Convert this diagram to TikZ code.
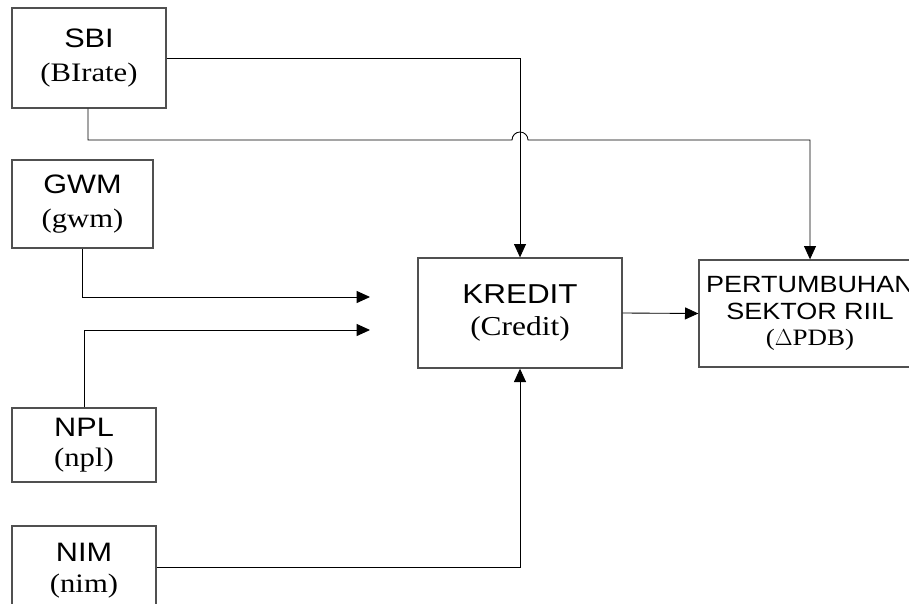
\documentclass[tikz,border=0pt]{standalone}
\usepackage{fontspec}
\setmainfont[FakeStretch=1.15]{Liberation Serif}
\newfontfamily\sfx[FakeStretch=1.15]{Liberation Sans}
\usetikzlibrary{arrows.meta}
\definecolor{boxgray}{HTML}{505050}
\begin{document}
\begin{tikzpicture}[x=0.75pt,y=-0.75pt,
  box/.style={draw=boxgray, line width=1pt, rectangle, align=center, inner sep=0pt},
  conn/.style={draw=black, line width=0.65pt},
  arr/.style={conn, -{Triangle[length=10pt,width=9pt]}}]
\useasboundingbox (0,0) rectangle (909,603);
\clip (0,0) rectangle (909,603);
% boxes
\node[box, minimum width=115.5pt, minimum height=75pt, font=\fontsize{20}{26}\selectfont] (sbi) at (89,58) {{\sfx SBI}\\(BIrate)};
\node[box, minimum width=105.75pt, minimum height=66pt, font=\fontsize{20}{26}\selectfont] (gwm) at (82.5,204) {{\sfx GWM}\\(gwm)};
\node[box, minimum width=108pt, minimum height=55.5pt, font=\fontsize{20}{23}\selectfont] (npl) at (84,445) {{\sfx NPL}\\(npl)};
\node[box, minimum width=108pt, minimum height=66.75pt, font=\fontsize{20}{23}\selectfont] (nim) at (84,570.5) {{\sfx NIM}\\(nim)};
\node[box, minimum width=153pt, minimum height=82.5pt, font=\fontsize{20.5}{24}\selectfont] (kredit) at (520,313) {{\sfx KREDIT}\\(Credit)};
\node[box, minimum width=166.5pt, minimum height=80.25pt, font=\fontsize{17.6}{20}\selectfont] (rb) at (810,313.5) {{\sfx PERTUMBUHAN}\\{\sfx SEKTOR RIIL}\\($\Delta$PDB)};
% coordinates
\coordinate (sbidown) at (88,140);
\coordinate (hopL) at (512,140);
\coordinate (hopR) at (528,140);
\coordinate (gwmend) at (370,297);
\coordinate (nplend) at (370,330);
% connectors
\draw[arr] (sbi.east) -| (kredit.north);
\draw[arr] (sbi.south -| sbidown) -- (sbidown) -- (hopL) arc[start angle=180,end angle=360,radius=8] -- (hopR) -| (rb.north);
\draw[arr] (gwm.south) |- (gwmend);
\draw[arr] (npl.north) |- (nplend);
\draw[arr] (nim.east |- 0,567) -| (kredit.south);
\draw[arr] (kredit.east) -- (rb.west);
\end{tikzpicture}
\end{document}
